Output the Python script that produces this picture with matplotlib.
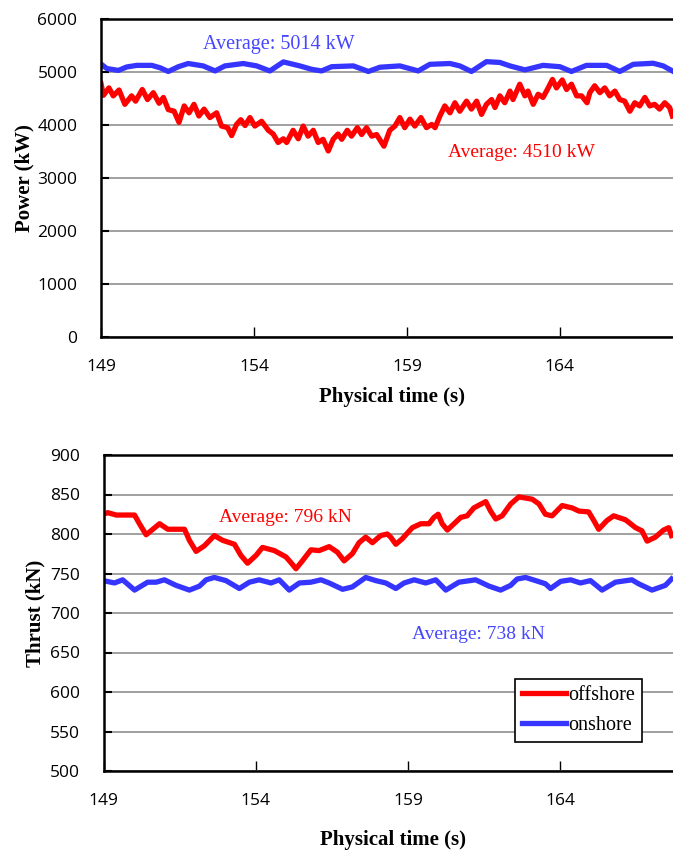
import matplotlib
matplotlib.use("Agg")
import matplotlib.pyplot as plt

# ---- data ----
t_pow_off = [149.0, 149.08, 149.26, 149.40, 149.59, 149.78, 150.00, 150.13, 150.35, 150.52,
             150.71, 150.90, 151.04, 151.20, 151.39, 151.55, 151.72, 151.88, 152.04, 152.20,
             152.37, 152.56, 152.78, 152.94, 153.14, 153.27, 153.43, 153.57, 153.71, 153.87,
             154.03, 154.25, 154.47, 154.63, 154.79, 154.96, 155.07, 155.28, 155.45, 155.61,
             155.77, 155.94, 156.10, 156.26, 156.43, 156.59, 156.75, 156.87, 157.05, 157.19,
             157.38, 157.52, 157.68, 157.85, 158.01, 158.25, 158.44, 158.61, 158.77, 158.93,
             159.10, 159.26, 159.46, 159.64, 159.81, 159.92, 160.08, 160.24, 160.41, 160.57,
             160.73, 160.95, 161.11, 161.28, 161.44, 161.60, 161.77, 161.88, 162.04, 162.20,
             162.37, 162.47, 162.69, 162.86, 162.96, 163.13, 163.29, 163.45, 163.62, 163.76,
             163.89, 164.08, 164.22, 164.38, 164.55, 164.71, 164.89, 164.98, 165.14, 165.31,
             165.47, 165.63, 165.80, 165.96, 166.12, 166.29, 166.45, 166.61, 166.78, 166.94,
             167.10, 167.26, 167.43, 167.59, 167.68]
p_off = [4780, 4560, 4700, 4550, 4660, 4390, 4550, 4450, 4670, 4480,
         4610, 4410, 4520, 4290, 4260, 4050, 4360, 4230, 4390, 4170,
         4300, 4140, 4230, 3980, 3950, 3800, 4010, 4100, 3990, 4140,
         3980, 4070, 3900, 3830, 3670, 3740, 3670, 3900, 3740, 3980,
         3790, 3900, 3670, 3730, 3510, 3730, 3830, 3730, 3900, 3790,
         3950, 3820, 3950, 3790, 3820, 3600, 3900, 3980, 4140, 3950,
         4110, 3980, 4140, 3950, 4010, 3950, 4170, 4360, 4230, 4420,
         4260, 4450, 4300, 4450, 4200, 4390, 4480, 4330, 4550, 4420,
         4640, 4480, 4770, 4550, 4640, 4390, 4580, 4520, 4700, 4860,
         4700, 4850, 4670, 4770, 4550, 4550, 4420, 4610, 4740, 4610,
         4700, 4550, 4640, 4480, 4450, 4260, 4420, 4360, 4520, 4360,
         4390, 4300, 4420, 4330, 4170]

t_pow_on = [149.0, 149.19, 149.57, 149.84, 150.17, 150.66, 150.93, 151.20, 151.53, 151.85,
            152.34, 152.73, 153.05, 153.65, 154.09, 154.52, 154.96, 155.50, 155.89, 156.21,
            156.54, 157.25, 157.74, 158.12, 158.77, 159.37, 159.75, 160.41, 160.73, 161.11,
            161.60, 162.04, 162.37, 162.86, 163.45, 164.00, 164.38, 164.87, 165.53, 165.96,
            166.40, 167.05, 167.38, 167.68]
p_on = [5150, 5065, 5030, 5095, 5125, 5125, 5080, 5010, 5100, 5160,
        5115, 5020, 5115, 5160, 5115, 5020, 5190, 5115, 5050, 5020,
        5100, 5115, 5010, 5090, 5115, 5020, 5145, 5160, 5115, 5010,
        5195, 5180, 5115, 5040, 5125, 5100, 5010, 5125, 5125, 5010,
        5145, 5165, 5115, 5020]

t_thr_off = [149.0, 149.14, 149.42, 150.02, 150.18, 150.40, 150.62, 150.84, 151.11, 151.66,
             151.82, 152.04, 152.31, 152.64, 152.91, 153.30, 153.51, 153.73, 154.01, 154.22,
             154.61, 154.99, 155.15, 155.32, 155.53, 155.81, 156.08, 156.41, 156.68, 156.90,
             157.17, 157.39, 157.61, 157.83, 158.10, 158.32, 158.43, 158.60, 158.81, 159.14,
             159.42, 159.69, 159.85, 159.99, 160.12, 160.29, 160.51, 160.73, 160.94, 161.16,
             161.55, 161.71, 161.88, 162.09, 162.37, 162.64, 163.08, 163.30, 163.51, 163.73,
             164.06, 164.39, 164.61, 164.93, 165.10, 165.26, 165.53, 165.75, 166.14, 166.47,
             166.68, 166.85, 167.12, 167.39, 167.56, 167.65]
f_off = [825, 827, 824, 824, 813, 799, 806, 813, 806, 806,
         792, 778, 785, 798, 792, 787, 773, 763, 773, 783,
         779, 771, 764, 756, 766, 780, 779, 784, 777, 766,
         775, 789, 796, 789, 798, 800, 796, 787, 794, 808,
         813, 813, 821, 825, 813, 805, 813, 821, 823, 833,
         841, 829, 819, 823, 838, 847, 844, 838, 825, 823,
         836, 833, 829, 828, 817, 806, 817, 823, 818, 808,
         804, 791, 796, 805, 808, 798]

t_thr_on = [149.0, 149.36, 149.63, 150.02, 150.45, 150.73, 151.00, 151.38, 151.82, 152.15,
            152.37, 152.64, 153.02, 153.46, 153.79, 154.11, 154.50, 154.77, 155.10, 155.43,
            155.81, 156.14, 156.41, 156.85, 157.17, 157.61, 157.94, 158.27, 158.60, 158.87,
            159.20, 159.58, 159.91, 160.24, 160.67, 161.22, 161.66, 162.04, 162.37, 162.58,
            162.86, 163.19, 163.51, 163.68, 164.01, 164.34, 164.66, 164.99, 165.37, 165.81,
            166.35, 166.57, 167.01, 167.45, 167.65]
f_on = [741, 738, 742, 729, 739, 739, 742, 735, 729, 734,
        742, 745, 741, 731, 739, 742, 738, 742, 729, 738,
        739, 742, 738, 730, 733, 745, 741, 738, 731, 738,
        742, 738, 742, 729, 739, 742, 734, 729, 735, 743,
        745, 741, 737, 731, 740, 742, 738, 741, 729, 739,
        742, 737, 729, 735, 743]

x_ticks = [149, 154, 159, 164]
pow_ticks = [0, 1000, 2000, 3000, 4000, 5000, 6000]
thr_ticks = [500, 550, 600, 650, 700, 750, 800, 850, 900]
series_names = ["offshore", "onshore"]
avg_pow = ["Average: 4510 kW", "Average: 5014 kW"]
avg_thr = ["Average: 796 kN", "Average: 738 kN"]

RED = "#FF0000"
BLUE = "#3535FF"
BLUE_TXT = "#4646FF"
SERIF = "Liberation Serif"
SANS = "Open Sans"
LW = 3.8

W, H = 673, 852
fig = plt.figure(figsize=(W / 100, H / 100), dpi=100)


def style(ax, yticks, ylim):
    ax.set_xlim(149, 167.7)
    ax.set_ylim(*ylim)
    ax.set_xticks(x_ticks)
    ax.set_yticks(yticks)
    ax.grid(axis="y", color="#a0a0a0", lw=1.4, zorder=0)
    ax.set_axisbelow(True)
    for s in ["left", "bottom", "top"]:
        ax.spines[s].set_linewidth(1.8)
        ax.spines[s].set_color("black")
    ax.spines["right"].set_visible(False)
    ax.tick_params(axis="x", direction="in", length=7, width=1, pad=16, labelsize=12.5)
    ax.tick_params(axis="y", direction="in", length=6, width=1.5, pad=17, labelsize=12.5)
    for lab in ax.get_xticklabels() + ax.get_yticklabels():
        lab.set_fontfamily(SANS)


# top: power
ax1 = fig.add_axes([101 / W, 1 - 337 / H, 1 - 101 / W, (337 - 19) / H])
style(ax1, pow_ticks, (0, 6000))
ax1.plot(t_pow_off, p_off, color=RED, lw=LW, solid_joinstyle="round")
ax1.plot(t_pow_on, p_on, color=BLUE, lw=LW, solid_joinstyle="round")
ax1.text(152.33, 5520, avg_pow[1], color=BLUE_TXT, fontsize=14.5, family=SERIF, va="center")
ax1.text(160.34, 3480, avg_pow[0], color=RED, fontsize=14, family=SERIF, va="center")
ax1.set_xlabel("Physical time (s)", family=SERIF, fontsize=15, fontweight="bold", va="center")
ax1.xaxis.set_label_coords(0.509, -0.189)
ax1.set_ylabel("Power (kW)", family=SERIF, fontsize=15, fontweight="bold", va="center")
ax1.yaxis.set_label_coords(-0.133, 0.5)

# bottom: thrust
ax2 = fig.add_axes([103.5 / W, 1 - 771 / H, 1 - 103.5 / W, (771 - 455) / H])
style(ax2, thr_ticks, (500, 900))
ax2.plot(t_thr_off, f_off, color=RED, lw=LW, solid_joinstyle="round", label=series_names[0])
ax2.plot(t_thr_on, f_on, color=BLUE, lw=LW, solid_joinstyle="round", label=series_names[1])
ax2.text(152.8, 820.5, avg_thr[0], color=RED, fontsize=14, family=SERIF, va="center")
ax2.text(159.13, 673, avg_thr[1], color=BLUE_TXT, fontsize=14, family=SERIF, va="center")
ax2.set_xlabel("Physical time (s)", family=SERIF, fontsize=15, fontweight="bold", va="center")
ax2.xaxis.set_label_coords(0.508, -0.218)
ax2.set_ylabel("Thrust (kN)", family=SERIF, fontsize=15, fontweight="bold", va="center")
ax2.yaxis.set_label_coords(-0.12, 0.5)
leg = ax2.legend(loc="lower right", bbox_to_anchor=((642 - 103.5) / (W - 103.5), (771 - 742) / (771 - 455)),
                 prop={"family": SERIF, "size": 14.5}, frameon=True, fancybox=False,
                 edgecolor="black", handlelength=2.2, handletextpad=0.1, borderpad=0.35,
                 labelspacing=0.55, borderaxespad=0)
leg.get_frame().set_linewidth(1.2)
leg.get_frame().set_alpha(1)

fig.savefig("out.png", dpi=100)
